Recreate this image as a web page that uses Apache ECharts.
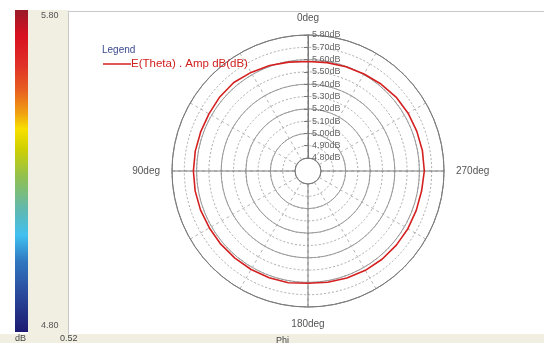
<!DOCTYPE html>
<html>
<head>
<meta charset="utf-8">
<script src="https://cdn.jsdelivr.net/npm/echarts@6/dist/echarts.min.js"></script>
<style>
  html, body { margin: 0; padding: 0; background: #ffffff; }
  #chart { width: 544px; height: 343px; }
</style>
</head>
<body>
<div id="chart"></div>
<script>
// Far-field cut: amplitude (dB) against Phi, sampled every 10 degrees
var phiDeg = [0, 10, 20, 30, 40, 50, 60, 70, 80, 90, 100, 110, 120, 130, 140, 150, 160, 170,
              180, 190, 200, 210, 220, 230, 240, 250, 260, 270, 280, 290, 300, 310, 320, 330, 340, 350, 360];
var ampDb = [5.585, 5.593, 5.607, 5.620, 5.633, 5.631, 5.624, 5.623, 5.625, 5.626, 5.626, 5.624,
             5.620, 5.620, 5.619, 5.619, 5.618, 5.617, 5.607, 5.613, 5.620, 5.627, 5.631, 5.632,
             5.632, 5.631, 5.632, 5.640, 5.639, 5.636, 5.634, 5.629, 5.617, 5.605, 5.597, 5.589, 5.585];
var seriesName = 'E(Theta) . Amp dB(dB)';
var radialMin = 4.8, radialMax = 5.8;
var colorbarLabels = ['5.80', '4.80'];
var colorbarUnit = 'dB';
var cornerLabel = '0.52';
var angleTitle = 'Phi';

var chart = echarts.init(document.getElementById('chart'));

var center = [308, 171];
var radius = [13, 136];
var font = 'Liberation Sans, Arial, sans-serif';

var points = phiDeg.map(function (p, i) { return [ampDb[i], p]; });

var option = {
  backgroundColor: '#ffffff',
  animation: false,
  title: {
    text: 'Legend', left: 97, top: 40,
    textStyle: { fontSize: 10, fontWeight: 'normal', color: '#3b4a8c', fontFamily: font }
  },
  legend: {
    left: 98, top: 53,
    icon: 'rect', itemWidth: 28, itemHeight: 1.5,
    data: [seriesName],
    textStyle: { fontSize: 11.5, color: '#d02020', fontFamily: font, padding: [0, 0, 0, -5] }
  },
  graphic: [
    // colour-scale side panel
    { type: 'rect', shape: { x: 28, y: 10, width: 41, height: 333 }, style: { fill: '#f1eee2' }, silent: true },
    { type: 'rect', shape: { x: 0, y: 334, width: 544, height: 9 }, style: { fill: '#f1eee2' }, silent: true },
    {
      type: 'rect', shape: { x: 15, y: 10, width: 13, height: 322 }, silent: true,
      style: {
        fill: new echarts.graphic.LinearGradient(0, 0, 0, 1, [
          { offset: 0.00, color: '#9a1a28' },
          { offset: 0.08, color: '#d81020' },
          { offset: 0.17, color: '#e03028' },
          { offset: 0.25, color: '#e86020' },
          { offset: 0.32, color: '#f0a010' },
          { offset: 0.37, color: '#f8e000' },
          { offset: 0.43, color: '#d0d000' },
          { offset: 0.52, color: '#90c050' },
          { offset: 0.62, color: '#60b8b0' },
          { offset: 0.70, color: '#40c0f0' },
          { offset: 0.78, color: '#3078c0' },
          { offset: 0.88, color: '#2a4a9c' },
          { offset: 1.00, color: '#1c1a70' }
        ])
      }
    },
    { type: 'line', shape: { x1: 68.5, y1: 11, x2: 68.5, y2: 334 }, style: { stroke: '#c8c8c8', lineWidth: 1 }, silent: true },
    { type: 'line', shape: { x1: 68, y1: 11.5, x2: 544, y2: 11.5 }, style: { stroke: '#c8c8c8', lineWidth: 1 }, silent: true },
    { type: 'text', x: 41, y: 16, style: { text: colorbarLabels[0], fontSize: 9, fill: '#555', fontFamily: font, verticalAlign: 'middle' } },
    { type: 'text', x: 41, y: 326, style: { text: colorbarLabels[1], fontSize: 9, fill: '#555', fontFamily: font, verticalAlign: 'middle' } },
    { type: 'text', x: 15, y: 339, style: { text: colorbarUnit, fontSize: 9, fill: '#444', fontFamily: font, verticalAlign: 'middle' } },
    { type: 'text', x: 60, y: 339, style: { text: cornerLabel, fontSize: 9, fill: '#444', fontFamily: font, verticalAlign: 'middle' } },
    { type: 'text', x: 276, y: 341, style: { text: angleTitle, fontSize: 9, fill: '#444', fontFamily: font, verticalAlign: 'middle' } }
  ],
  polar: [
    { center: center, radius: radius },
    { center: center, radius: radius }
  ],
  angleAxis: [
    {
      polarIndex: 0, type: 'value', min: 0, max: 360, interval: 30,
      startAngle: 90, clockwise: false,
      axisLine: { show: false }, axisTick: { show: false }, axisLabel: { show: false },
      splitLine: { show: true, lineStyle: { color: '#b4b4b4', type: [3, 3], width: 1 } }
    },
    {
      polarIndex: 1, type: 'value', min: 0, max: 360, interval: 90,
      startAngle: 90, clockwise: false,
      axisLine: { show: true, lineStyle: { color: '#7a7a7a', width: 1 } },
      axisTick: { show: false },
      axisLabel: {
        show: true, margin: 12, fontSize: 10, color: '#555', fontFamily: font,
        formatter: function (v) { return v === 360 ? '' : v + 'deg'; }
      },
      splitLine: { show: true, lineStyle: { color: '#7a7a7a', width: 1 } }
    }
  ],
  radiusAxis: [
    {
      polarIndex: 0, type: 'value', min: radialMin, max: radialMax, interval: 0.1,
      axisLine: { show: true, lineStyle: { color: '#7a7a7a' } },
      axisTick: { show: true, inside: false, length: 4, lineStyle: { color: '#7a7a7a' } },
      axisLabel: {
        show: true, align: 'left', margin: -4, fontSize: 9, color: '#666', fontFamily: font,
        formatter: function (v) { return v.toFixed(2) + 'dB'; }
      },
      splitLine: { show: true, lineStyle: { color: '#aaaaaa', type: [2, 2], width: 1 } }
    },
    {
      polarIndex: 1, type: 'value', min: radialMin, max: radialMax, interval: 0.2,
      axisLine: { show: false }, axisTick: { show: false }, axisLabel: { show: false },
      splitLine: { show: true, lineStyle: { color: '#9a9a9a', width: 1 } }
    }
  ],
  series: [
    {
      name: seriesName, type: 'line', coordinateSystem: 'polar', polarIndex: 1,
      data: points, showSymbol: false, smooth: false, z: 10,
      lineStyle: { color: '#d42020', width: 1.6 },
      itemStyle: { color: '#d42020' }
    }
  ]
};

chart.setOption(option);
</script>
</body>
</html>
